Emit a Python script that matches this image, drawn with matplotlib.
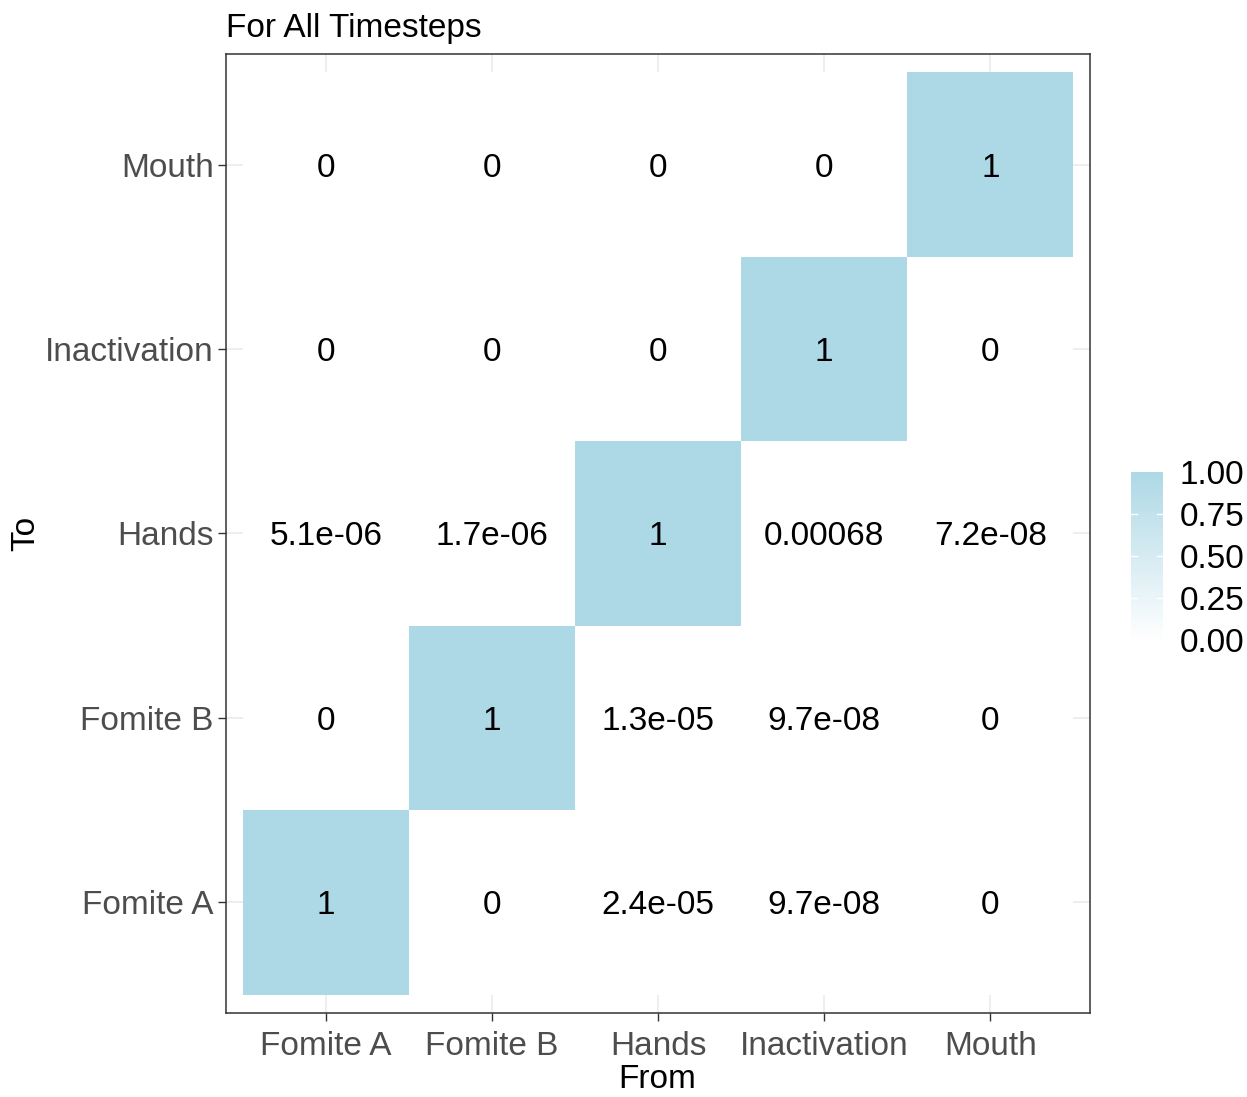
import numpy as np
import matplotlib.pyplot as plt
from matplotlib.colors import LinearSegmentedColormap

plt.rcParams['font.family'] = ['Liberation Sans', 'DejaVu Sans']

# transfer probabilities: rows = "To", columns = "From"
from_labels = ["Fomite A", "Fomite B", "Hands", "Inactivation", "Mouth"]
to_labels = ["Fomite A", "Fomite B", "Hands", "Inactivation", "Mouth"]

to_fomite_a = [1, 0, 2.4e-05, 9.7e-08, 0]
to_fomite_b = [0, 1, 1.3e-05, 9.7e-08, 0]
to_hands = [5.1e-06, 1.7e-06, 1, 0.00068, 7.2e-08]
to_inactivation = [0, 0, 0, 1, 0]
to_mouth = [0, 0, 0, 0, 1]

legend_breaks = [0, 0.25, 0.5, 0.75, 1]

values = np.array([to_fomite_a, to_fomite_b, to_hands, to_inactivation, to_mouth])

cmap = LinearSegmentedColormap.from_list("wb", ["#FFFFFF", "#ADD8E6"])

W, H = 1247, 1097
fig = plt.figure(figsize=(W / 100, H / 100), dpi=100)
ax = fig.add_axes([226 / W, 1 - 1013 / H, 864 / W, 959 / H])

n = len(from_labels)
edges = np.arange(n + 1) - 0.5
ax.pcolormesh(edges, edges, values, cmap=cmap, vmin=0, vmax=1, zorder=2)

for i in range(n):
    for j in range(n):
        ax.text(j, i, "{:.2g}".format(values[i, j]), ha="center", va="center_baseline",
                fontsize=24, color="black", zorder=3)

ax.set_xlim(-0.6, n - 0.4)
ax.set_ylim(-0.6, n - 0.4)
ax.set_xticks(range(n))
ax.set_xticklabels(from_labels)
ax.set_yticks(range(n))
ax.set_yticklabels(to_labels)
ax.grid(True, color="#EBEBEB", linewidth=1.2, zorder=0)
ax.set_axisbelow(True)
ax.tick_params(length=6, width=1, color="#333333", labelcolor="#4D4D4D",
               labelsize=24, pad=3)
ax.tick_params(axis="x", pad=7)
for s in ax.spines.values():
    s.set_color("#333333")
    s.set_linewidth(1.1)

fig.text(657 / W, 1 - 1080 / H, "From", fontsize=24, ha="center", va="center")
fig.text(26 / W, 1 - 533 / H, "To", fontsize=24, rotation=90, ha="center", va="center")
ax.set_title("For All Timesteps", fontsize=24, loc="left", pad=12)

# colour bar
cax = fig.add_axes([1131 / W, 1 - 640 / H, 32 / W, 168 / H])
grad = np.linspace(0, 1, 256).reshape(-1, 1)
cax.imshow(grad, cmap=cmap, aspect="auto", origin="lower", extent=[0, 1, 0, 1])
for s in cax.spines.values():
    s.set_visible(False)
cax.set_xticks([])
cax.set_xlim(0, 1)
cax.set_ylim(0, 1)
cax.set_yticks(legend_breaks)
cax.set_yticklabels(["{:.2f}".format(b) for b in legend_breaks])
cax.yaxis.tick_right()
cax.tick_params(axis="y", length=0, labelsize=24, labelcolor="black", pad=12)
for b in legend_breaks[1:-1]:
    cax.plot([0, 0.2], [b, b], color="white", linewidth=1)
    cax.plot([0.8, 1], [b, b], color="white", linewidth=1)

fig.savefig("out.png", dpi=100)
